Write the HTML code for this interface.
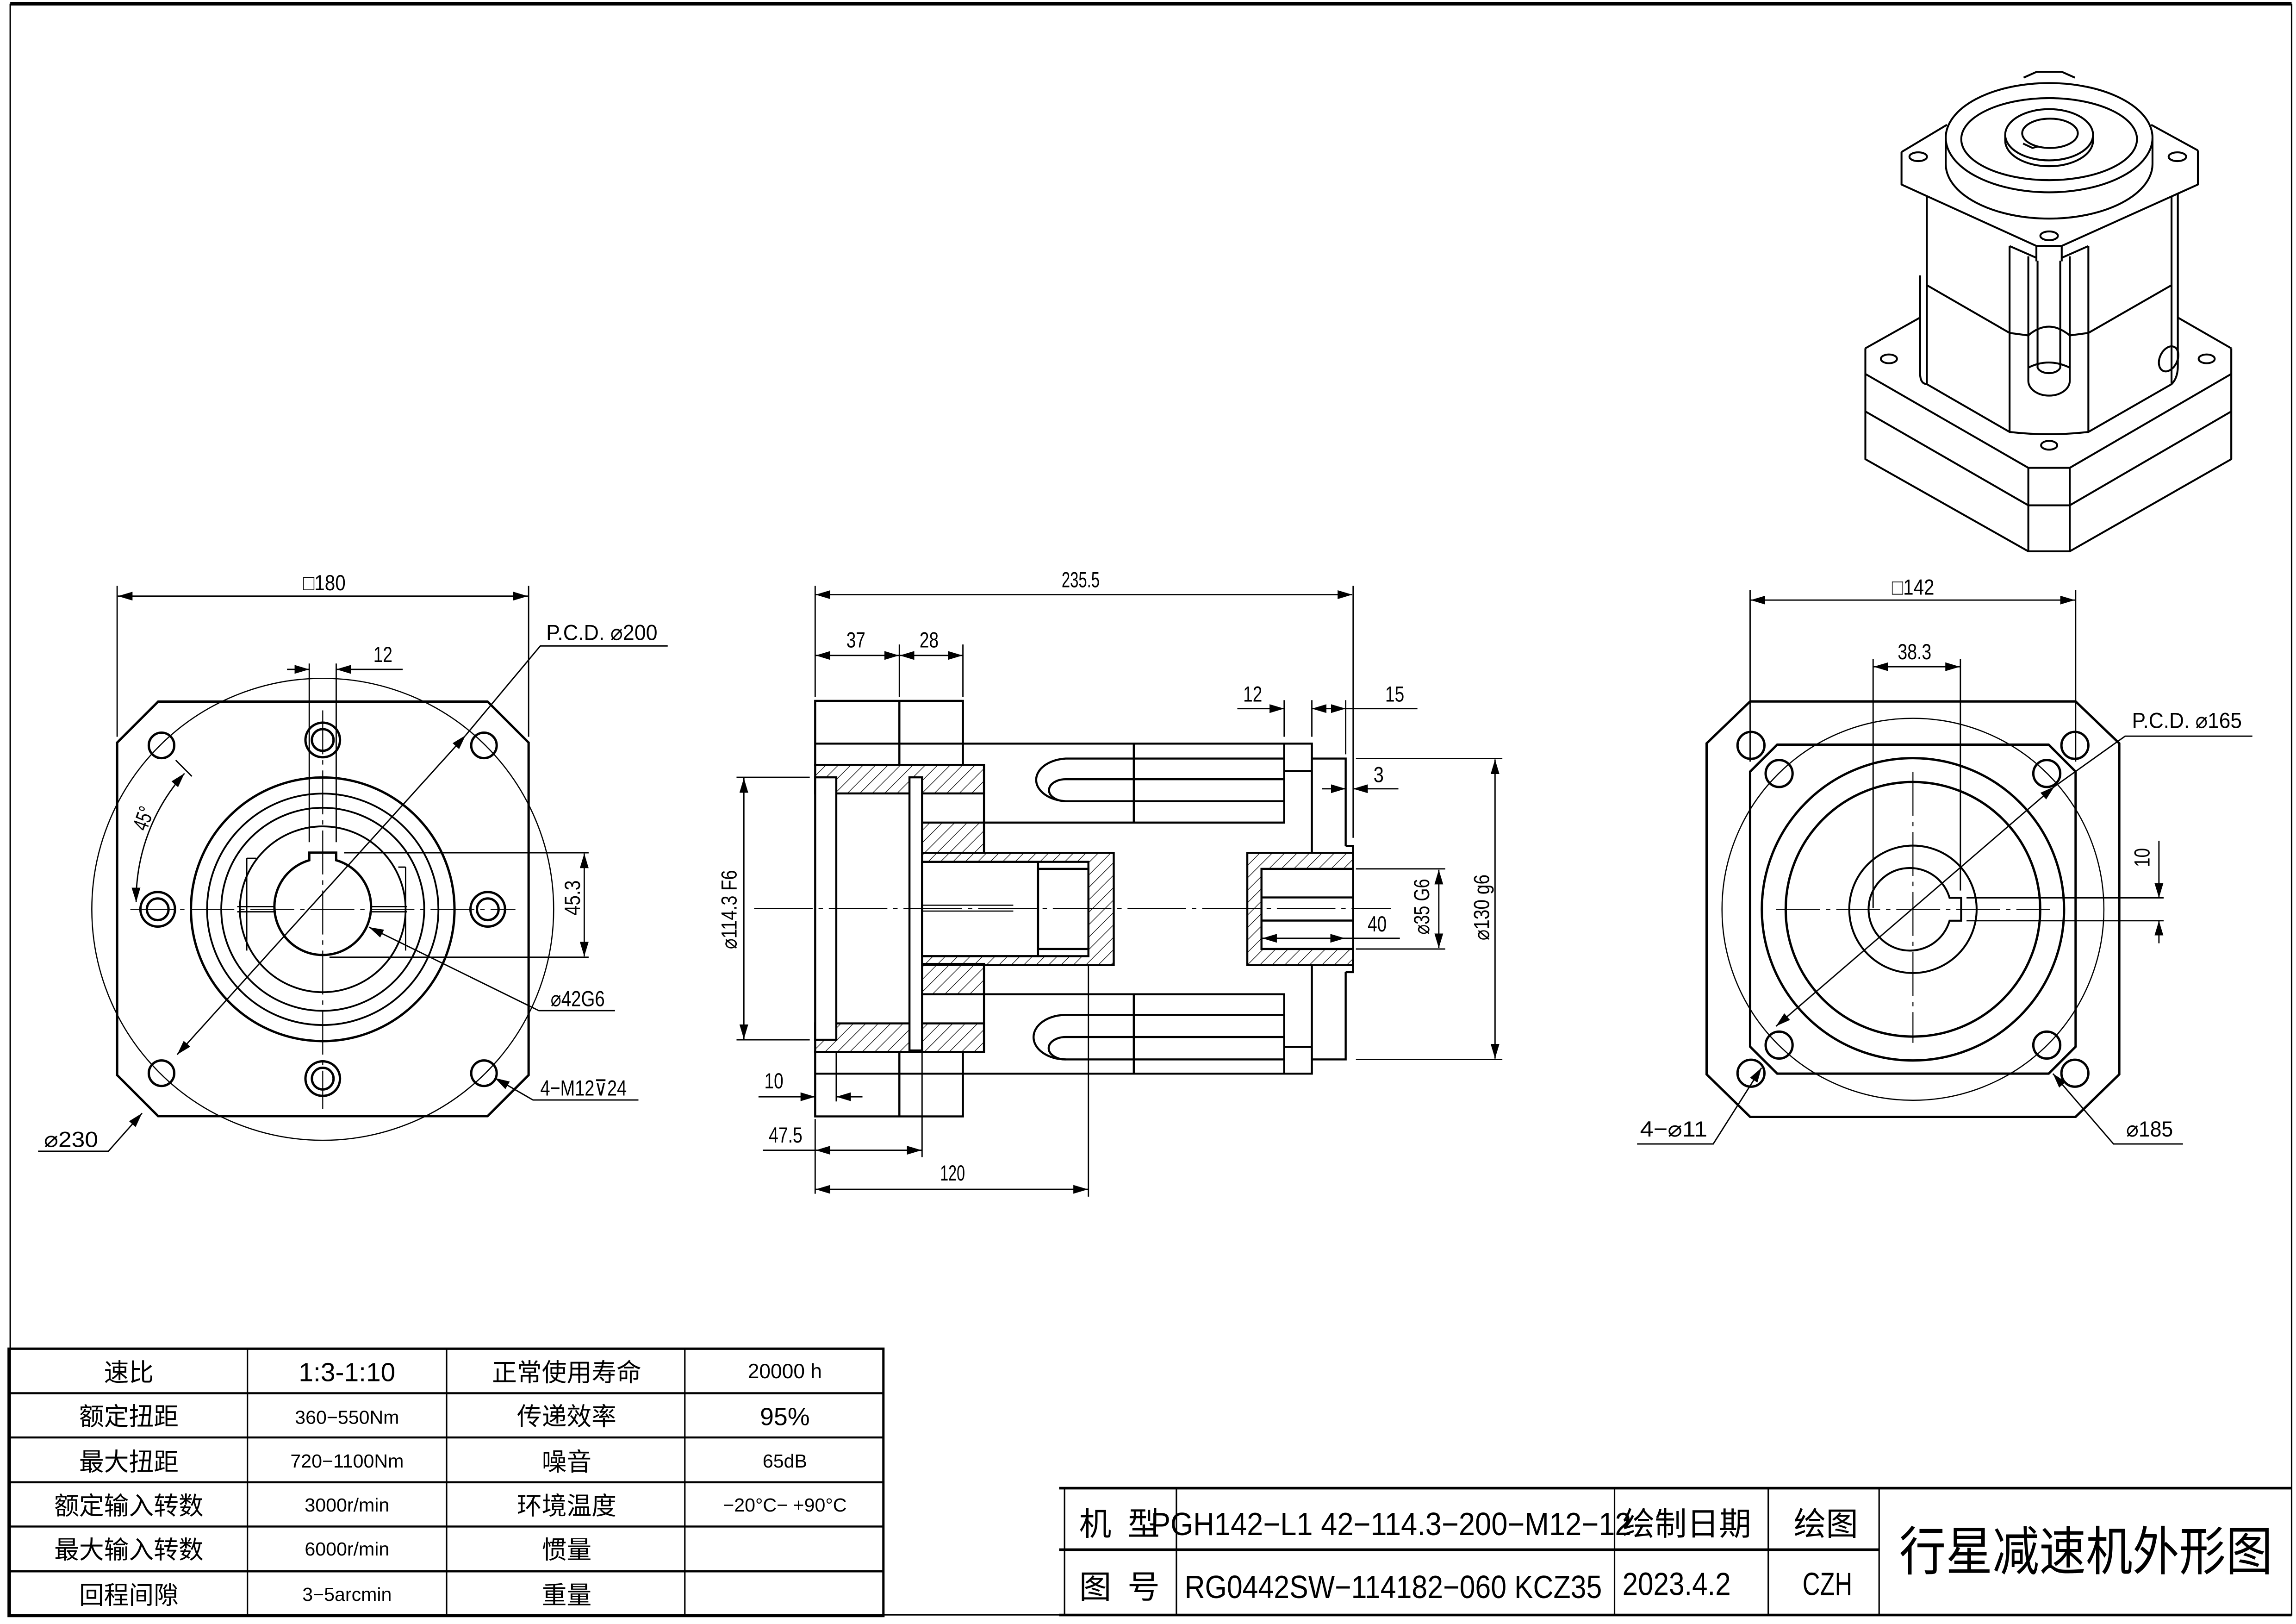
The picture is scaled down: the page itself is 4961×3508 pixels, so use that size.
<!DOCTYPE html>
<html><head><meta charset="utf-8"><style>
html,body{margin:0;padding:0;background:#fff;}
svg{display:block;}
text{font-family:"Liberation Sans","Noto Sans CJK SC",sans-serif;fill:#000;}
</style></head><body>
<svg width="4961" height="3508" viewBox="0 0 1568 1108.75" preserveAspectRatio="none" xmlns="http://www.w3.org/2000/svg">
<defs>
<marker id="a" markerUnits="userSpaceOnUse" markerWidth="10" markerHeight="6" refX="10" refY="3" orient="auto"><path d="M0,0 L10,3 L0,6 Z" fill="#000"/></marker>
<marker id="s" markerUnits="userSpaceOnUse" markerWidth="10" markerHeight="6" refX="0" refY="3" orient="auto"><path d="M10,0 L0,3 L10,6 Z" fill="#000"/></marker>
<pattern id="h" patternUnits="userSpaceOnUse" width="6" height="6" patternTransform="rotate(45)"><line x1="0" y1="0" x2="0" y2="6" stroke="#000" stroke-width="0.8"/></pattern>
</defs>
<rect width="1568" height="1108.75" fill="#fff"/>
<path d="M7,3 H1565 V1102.5 H7 Z" fill="none" stroke="#000" stroke-width="1"/>
<line x1="7" y1="2.5" x2="1565" y2="2.5" stroke="#000" stroke-width="2.5"/>

<g fill="none" stroke="#000" stroke-linecap="butt">
<g stroke-width="1.6">
<path d="M108,479 H333 L361,507 V734 L333,762 H108 L80,734 V507 Z"/>
<circle cx="220.4" cy="620.8" r="90"/>
<circle cx="220.4" cy="620.8" r="79" stroke-width="1.2"/>
<circle cx="220.4" cy="620.8" r="69.3" stroke-width="1.2"/>
<circle cx="220.4" cy="620.8" r="56.6" stroke-width="1.2"/>
<path d="M211.2,582.1 L211.2,587.3 A33,33 0 1,0 229.6,587.3 L229.6,582.1 Z"/>
<circle cx="110.3" cy="508.9" r="8.7"/><circle cx="330.5" cy="508.9" r="8.7"/>
<circle cx="110.3" cy="732.7" r="8.7"/><circle cx="330.5" cy="732.7" r="8.7"/>
<circle cx="220.4" cy="505.2" r="11.8"/><circle cx="220.4" cy="505.2" r="7.4"/>
<circle cx="220.4" cy="736.4" r="11.8"/><circle cx="220.4" cy="736.4" r="7.4"/>
<circle cx="107.7" cy="620.8" r="11.8"/><circle cx="107.7" cy="620.8" r="7.4"/>
<circle cx="333.1" cy="620.8" r="11.8"/><circle cx="333.1" cy="620.8" r="7.4"/>
</g>
<g stroke-width="0.9">
<path d="M168.5,586 V649 M168.5,586 H175 M277,592 V649 M272,592 H277"/>
<line x1="162" y1="619" x2="187" y2="619"/><line x1="162" y1="622.5" x2="187" y2="622.5"/>
<line x1="253" y1="619" x2="278" y2="619"/><line x1="253" y1="622.5" x2="278" y2="622.5"/>
<circle cx="220.4" cy="620.8" r="157.7" stroke-width="0.8"/>
<line x1="89" y1="620.8" x2="352" y2="620.8" stroke-dasharray="30,4,3,4" stroke-width="0.7"/>
<line x1="220.4" y1="485" x2="220.4" y2="757" stroke-dasharray="30,4,3,4" stroke-width="0.7"/>
<line x1="80" y1="400" x2="80" y2="503"/><line x1="361" y1="400" x2="361" y2="503"/>
<line x1="80.5" y1="407" x2="360.5" y2="407" marker-start="url(#s)" marker-end="url(#a)"/>
<line x1="211.2" y1="453" x2="211.2" y2="575"/><line x1="229.6" y1="453" x2="229.6" y2="575"/>
<line x1="196" y1="457" x2="211.2" y2="457" marker-end="url(#a)"/>
<line x1="275" y1="457" x2="229.6" y2="457" marker-end="url(#a)"/>
<line x1="121" y1="720" x2="318" y2="502" marker-start="url(#s)" marker-end="url(#a)"/>
<path d="M318,502 L369,441 H456"/>
<path d="M93,616 A130,130 0 0,1 126,528" marker-start="url(#s)" marker-end="url(#a)"/>
<line x1="120" y1="519" x2="131" y2="530"/>
<line x1="235" y1="582.2" x2="402" y2="582.2"/><line x1="225" y1="653.5" x2="402" y2="653.5"/>
<line x1="399" y1="582.7" x2="399" y2="653" marker-start="url(#s)" marker-end="url(#a)"/>
<path d="M420,690 H368 L252,633" marker-end="url(#a)"/>
<path d="M436,751 H364 L338,736" marker-end="url(#a)"/>
<path d="M26,786 H74 L97,760" marker-end="url(#a)"/>
</g>
<g stroke-width="1.4">
<rect x="556.7" y="522.2" width="115.3" height="19.5" fill="url(#h)"/>
<rect x="556.7" y="698.7" width="115.3" height="19.5" fill="url(#h)"/>
<rect x="629.7" y="561.6" width="42.3" height="20.7" fill="url(#h)"/>
<rect x="629.7" y="658.1" width="42.3" height="20.7" fill="url(#h)"/>
<rect x="629.7" y="582.3" width="130.9" height="76.6" fill="url(#h)"/>
<rect x="629.7" y="588.4" width="113.6" height="64.4" fill="#fff"/>
<rect x="556.7" y="530.7" width="14.4" height="179.2" fill="#fff"/>
<rect x="621.1" y="530.7" width="8.6" height="186.5" fill="#fff"/>
<rect x="556.7" y="478.5" width="100.9" height="43.7"/>
<line x1="614.2" y1="478.5" x2="614.2" y2="522.2"/><line x1="556.7" y1="507.7" x2="657.6" y2="507.7"/>
<rect x="556.7" y="718.2" width="100.9" height="44"/>
<line x1="614.2" y1="718.2" x2="614.2" y2="762.2"/><line x1="556.7" y1="733" x2="657.6" y2="733"/>
<line x1="672" y1="522.2" x2="672" y2="582.3"/><line x1="672" y1="658.9" x2="672" y2="718.2"/>
<rect x="629.7" y="588.4" width="79.2" height="64.4"/>
<rect x="708.9" y="593.2" width="34.4" height="54.7"/>
<line x1="629.7" y1="618" x2="692" y2="618" stroke-width="0.8"/><line x1="629.7" y1="622" x2="692" y2="622" stroke-width="0.8"/>
<path d="M657.6,507.7 H895.9 V582.3 M877,507.7 V561.6 H672 M877,526.4 H895.9"/>
<path d="M657.6,733 H895.9 V658.9 M877,733 V678.8 H672 M877,714.8 H895.9"/>
<line x1="774.3" y1="507.7" x2="774.3" y2="561.6"/><line x1="774.3" y1="678.8" x2="774.3" y2="733"/>
<path d="M877,517.9 H727.8 A22,14.6 0 0,0 727.8,547 H877"/>
<path d="M877,532 H727.8 A11.4,7.5 0 0,0 727.8,547"/>
<path d="M877,692.9 H727.8 A22,15.2 0 0,0 727.8,723.3 H877"/>
<path d="M877,708 H727.8 A11.4,7.5 0 0,0 727.8,723.3"/>
<path d="M895.9,517.9 H919 V577.5 M895.9,723.3 H919 V663.7"/>
<path d="M919,577.5 H924 V663.7 H919"/>
<rect x="851.8" y="582.3" width="72.3" height="76.6" fill="url(#h)"/>
<rect x="861.5" y="593.2" width="62.6" height="54.7" fill="#fff"/>
<line x1="861.5" y1="612.7" x2="924" y2="612.7"/><line x1="861.5" y1="628.5" x2="924" y2="628.5"/>
</g>
<g stroke-width="0.9">
<line x1="515" y1="620.2" x2="950" y2="620.2" stroke-dasharray="40,4,3,4" stroke-width="0.7"/>
<line x1="556.7" y1="400" x2="556.7" y2="476"/><line x1="924.1" y1="400" x2="924.1" y2="572"/>
<line x1="557" y1="406" x2="923.5" y2="406" marker-start="url(#s)" marker-end="url(#a)"/>
<line x1="614.2" y1="440" x2="614.2" y2="476"/><line x1="657.6" y1="440" x2="657.6" y2="476"/>
<line x1="557" y1="447.5" x2="614" y2="447.5" marker-start="url(#s)" marker-end="url(#a)"/>
<line x1="614.4" y1="447.5" x2="657.4" y2="447.5" marker-start="url(#s)" marker-end="url(#a)"/>
<line x1="877" y1="478" x2="877" y2="503"/><line x1="895.9" y1="478" x2="895.9" y2="503"/><line x1="919" y1="478" x2="919" y2="515"/>
<line x1="845" y1="483.8" x2="877" y2="483.8" marker-end="url(#a)"/>
<line x1="895.9" y1="483.8" x2="919" y2="483.8" marker-start="url(#s)" marker-end="url(#a)"/>
<line x1="968" y1="483.8" x2="919" y2="483.8"/>
<line x1="903" y1="538.5" x2="919" y2="538.5" marker-end="url(#a)"/>
<line x1="955" y1="538.5" x2="924.1" y2="538.5" marker-end="url(#a)"/>
<line x1="926" y1="517.9" x2="1026" y2="517.9"/><line x1="926" y1="723.3" x2="1026" y2="723.3"/>
<line x1="1021" y1="518.5" x2="1021" y2="722.7" marker-start="url(#s)" marker-end="url(#a)"/>
<line x1="926" y1="593.2" x2="987" y2="593.2"/><line x1="926" y1="647.9" x2="987" y2="647.9"/>
<line x1="982.6" y1="593.8" x2="982.6" y2="647.3" marker-start="url(#s)" marker-end="url(#a)"/>
<line x1="862" y1="640.6" x2="918.5" y2="640.6" marker-start="url(#s)" marker-end="url(#a)"/>
<line x1="918.5" y1="640.6" x2="956" y2="640.6"/>
<line x1="503" y1="530.7" x2="553" y2="530.7"/><line x1="503" y1="709.9" x2="553" y2="709.9"/>
<line x1="508" y1="531.2" x2="508" y2="709.4" marker-start="url(#s)" marker-end="url(#a)"/>
<line x1="556.7" y1="764" x2="556.7" y2="815"/><line x1="571.1" y1="718" x2="571.1" y2="752"/>
<line x1="629.7" y1="718" x2="629.7" y2="790"/><line x1="743.3" y1="659" x2="743.3" y2="817"/>
<line x1="518" y1="748.8" x2="556.7" y2="748.8" marker-end="url(#a)"/>
<line x1="589" y1="748.8" x2="571.1" y2="748.8" marker-end="url(#a)"/>
<line x1="521" y1="785.3" x2="556.7" y2="785.3"/>
<line x1="557" y1="785.3" x2="629.4" y2="785.3" marker-start="url(#s)" marker-end="url(#a)"/>
<line x1="557" y1="812" x2="743" y2="812" marker-start="url(#s)" marker-end="url(#a)"/>
</g>
<g stroke-width="1.6">
<path d="M1195.2,478.9 H1417.5 L1447.3,507.5 V733.5 L1417.5,762.5 H1195.2 L1165.5,733.5 V507.5 Z"/>
<path d="M1213.7,508.4 H1399.1 L1417.5,526.8 V714.6 L1399.1,733 H1213.7 L1195.2,714.6 V526.8 Z"/>
<circle cx="1306.4" cy="620.8" r="103.2"/>
<circle cx="1306.4" cy="620.8" r="86.9"/>
<circle cx="1306.4" cy="620.8" r="43.5" stroke-width="1.3"/>
<path d="M1331.4,613 A28.2,28.2 0 1,0 1331.4,628.6 H1339.3 V613 Z" stroke-width="1.3"/>
<circle cx="1195.8" cy="508.9" r="9.2"/><circle cx="1417" cy="508.9" r="9.2"/>
<circle cx="1195.8" cy="732.7" r="9.2"/><circle cx="1417" cy="732.7" r="9.2"/>
<circle cx="1215" cy="528.1" r="9.2"/><circle cx="1397.8" cy="528.1" r="9.2"/>
<circle cx="1215" cy="713.5" r="9.2"/><circle cx="1397.8" cy="713.5" r="9.2"/>
</g>
<g stroke-width="0.9">
<circle cx="1306.4" cy="620.8" r="130.4" stroke-width="0.8"/>
<line x1="1213" y1="620.8" x2="1400" y2="620.8" stroke-dasharray="30,4,3,4" stroke-width="0.7"/>
<line x1="1306.4" y1="527" x2="1306.4" y2="712" stroke-dasharray="30,4,3,4" stroke-width="0.7"/>
<line x1="1195.2" y1="403" x2="1195.2" y2="520"/><line x1="1417.5" y1="403" x2="1417.5" y2="520"/>
<line x1="1195.5" y1="409.7" x2="1417" y2="409.7" marker-start="url(#s)" marker-end="url(#a)"/>
<line x1="1279.2" y1="450" x2="1279.2" y2="620"/><line x1="1338.8" y1="450" x2="1338.8" y2="608"/>
<line x1="1279.5" y1="455.2" x2="1338.5" y2="455.2" marker-start="url(#s)" marker-end="url(#a)"/>
<line x1="1343" y1="613" x2="1477.6" y2="613"/><line x1="1343" y1="628.6" x2="1477.6" y2="628.6"/>
<line x1="1474.4" y1="574" x2="1474.4" y2="613" marker-end="url(#a)"/>
<line x1="1474.4" y1="644" x2="1474.4" y2="628.6" marker-end="url(#a)"/>
<line x1="1212.9" y1="700.6" x2="1403" y2="537" marker-start="url(#s)" marker-end="url(#a)"/>
<path d="M1403,537 L1451.3,502.6 H1538.2"/>
<path d="M1118,781 H1170 L1203,729" marker-end="url(#a)"/>
<path d="M1490.8,781 H1443.4 L1402,733" marker-end="url(#a)"/>
</g>
<g stroke-width="1.3" stroke-linejoin="round">
<path d="M1273.9,237.8 L1311.3,216.8 M1487.3,216.8 L1523.8,237.8"/>
<path d="M1273.9,237.8 V313.5 L1385.2,376.4 H1413.5 L1523.8,313.5 V237.8"/>
<path d="M1273.9,255.3 L1385.2,319.4 H1413.5 L1523.8,255.3"/>
<path d="M1273.9,280.9 L1385.2,345 H1413.5 L1523.8,280.9"/>
<line x1="1385.2" y1="319.4" x2="1385.2" y2="376.4"/><line x1="1413.5" y1="319.4" x2="1413.5" y2="376.4"/>
<ellipse cx="1290" cy="245" rx="5.5" ry="3"/><ellipse cx="1507" cy="245" rx="5.5" ry="3"/>
<ellipse cx="1399.4" cy="304" rx="5.5" ry="3"/>
<path d="M1311.3,188 V255 Q1311.3,262 1315.9,262.3 L1372.4,294.9 Q1399,298 1426.2,294.9 L1483,262.3 Q1487.3,258 1487.3,250 V132"/>
<path d="M1315.9,134 V262.3 M1483,134 V262.3"/>
<path d="M1315.9,194.7 L1372.4,227.3 Q1385,229 1385.2,229 Q1392,223 1399.4,223 Q1406,223 1413.5,229 L1426.2,227.3 L1483,194.7"/>
<line x1="1372.4" y1="168" x2="1372.4" y2="294.9"/><line x1="1426.2" y1="168" x2="1426.2" y2="294.9"/>
<path d="M1385.2,175 V260 A14,10 0 0,0 1413.5,260 V175"/>
<path d="M1391.5,178 V251 A8,5 0 0,0 1407,251 V178"/>
<path d="M1385.2,251 Q1399,244 1413.5,251"/>
<ellipse cx="1481" cy="245" rx="6" ry="9" transform="rotate(25 1481 245)"/>
<path d="M1298.6,103.8 V126 L1390.7,167.9 H1408 L1501,126 V102.7"/>
<path d="M1298.6,103.8 L1329.6,85.2 M1501,102.7 L1469.1,85.2"/>
<path d="M1390.7,167.9 V178.4 M1408,167.9 V178.4 M1372.4,168 L1390.7,176 M1426.2,168 L1408,176"/>
<ellipse cx="1310" cy="107" rx="6" ry="3"/><ellipse cx="1487" cy="107" rx="6" ry="3"/>
<ellipse cx="1399.4" cy="161" rx="6" ry="3"/>
<path d="M1328.8,94 V112 A70.6,37.3 0 0,0 1470,112 V94"/>
<ellipse cx="1399.4" cy="94" rx="70.6" ry="37.3"/>
<ellipse cx="1399.4" cy="95" rx="60" ry="28"/>
<path d="M1369.4,92 V96 A30,17.5 0 0,0 1429.4,96 V92"/>
<ellipse cx="1399.4" cy="92" rx="30" ry="17.5"/>
<ellipse cx="1400" cy="91" rx="19" ry="10"/>
<path d="M1381.6,98 L1388,101 L1392,100" />
<path d="M1382,53 L1391,49 H1408 L1417,53"/>
</g>
<g stroke-width="1">
<path d="M5.9,920.8 H603.3 V1103.3 H5.9 Z" stroke-width="1.6"/>
<path d="M5.9,951.2 H603.3 M5.9,981.4 H603.3 M5.9,1012 H603.3 M5.9,1042.2 H603.3 M5.9,1072.8 H603.3" stroke-width="1.4"/>
<path d="M169,920.8 V1103.3 M305,920.8 V1103.3 M467.7,920.8 V1103.3"/>
<path d="M723.3,1016 H1565 M723.3,1058 H1283.3 M723.3,1102.6 H1565" stroke-width="1.8"/>
<path d="M727,1016 V1102.6 M803.4,1016 V1102.6 M1102.6,1016 V1102.6 M1207.6,1016 V1102.6 M1283.3,1016 V1102.6"/>
</g>
</g>

<g font-size="15">
<text x="207" y="403" textLength="29" lengthAdjust="spacingAndGlyphs">□180</text>
<text x="255" y="452" textLength="13" lengthAdjust="spacingAndGlyphs">12</text>
<text x="373" y="437" textLength="76" lengthAdjust="spacingAndGlyphs">P.C.D. ⌀200</text>
<text x="0" y="0" transform="translate(100,568) rotate(-70)" textLength="16" lengthAdjust="spacingAndGlyphs">45°</text>
<text x="0" y="0" transform="translate(396,625) rotate(-90)" textLength="24" lengthAdjust="spacingAndGlyphs">45.3</text>
<text x="376" y="687" textLength="37" lengthAdjust="spacingAndGlyphs">⌀42G6</text>
<text x="369" y="748" textLength="59" lengthAdjust="spacingAndGlyphs">4−M12⊽24</text>
<text x="30" y="783" textLength="37" lengthAdjust="spacingAndGlyphs">⌀230</text>

<text x="725" y="401" textLength="26" lengthAdjust="spacingAndGlyphs">235.5</text>
<text x="578" y="442" textLength="13" lengthAdjust="spacingAndGlyphs">37</text>
<text x="628" y="442" textLength="13" lengthAdjust="spacingAndGlyphs">28</text>
<text x="849" y="479" textLength="13" lengthAdjust="spacingAndGlyphs">12</text>
<text x="946" y="479" textLength="13" lengthAdjust="spacingAndGlyphs">15</text>
<text x="938" y="534" textLength="7" lengthAdjust="spacingAndGlyphs">3</text>
<text x="934" y="636" textLength="13" lengthAdjust="spacingAndGlyphs">40</text>
<text x="0" y="0" transform="translate(1017,642) rotate(-90)" textLength="45" lengthAdjust="spacingAndGlyphs">⌀130 g6</text>
<text x="0" y="0" transform="translate(976,638) rotate(-90)" textLength="38" lengthAdjust="spacingAndGlyphs">⌀35 G6</text>
<text x="0" y="0" transform="translate(503,648) rotate(-90)" textLength="54" lengthAdjust="spacingAndGlyphs">⌀114.3 F6</text>
<text x="522" y="743" textLength="13" lengthAdjust="spacingAndGlyphs">10</text>
<text x="525" y="780" textLength="23" lengthAdjust="spacingAndGlyphs">47.5</text>
<text x="642" y="806" textLength="17" lengthAdjust="spacingAndGlyphs">120</text>

<text x="1292" y="406" textLength="29" lengthAdjust="spacingAndGlyphs">□142</text>
<text x="1296" y="450" textLength="23" lengthAdjust="spacingAndGlyphs">38.3</text>
<text x="1456" y="497" textLength="75" lengthAdjust="spacingAndGlyphs">P.C.D. ⌀165</text>
<text x="0" y="0" transform="translate(1468,592) rotate(-90)" textLength="13" lengthAdjust="spacingAndGlyphs">10</text>
<text x="1120" y="776" textLength="46" lengthAdjust="spacingAndGlyphs">4−⌀11</text>
<text x="1452" y="776" textLength="32" lengthAdjust="spacingAndGlyphs">⌀185</text>
</g>

<g font-size="17" text-anchor="middle">
<text x="88" y="943">速比</text>
<text x="237" y="943" font-family="Liberation Serif,serif" font-size="18">1:3-1:10</text>
<text x="387" y="943">正常使用寿命</text>
<text x="536" y="941" font-size="14">20000 h</text>
<text x="88" y="973">额定扭距</text>
<text x="237" y="972" font-size="13">360−550Nm</text>
<text x="387" y="973">传递效率</text>
<text x="536" y="973" font-size="17">95%</text>
<text x="88" y="1004">最大扭距</text>
<text x="237" y="1002" font-size="13">720−1100Nm</text>
<text x="387" y="1004">噪音</text>
<text x="536" y="1002" font-size="13">65dB</text>
<text x="88" y="1034">额定输入转数</text>
<text x="237" y="1032" font-size="13">3000r/min</text>
<text x="387" y="1034">环境温度</text>
<text x="536" y="1032" font-size="13">−20°C− +90°C</text>
<text x="88" y="1064">最大输入转数</text>
<text x="237" y="1062" font-size="13">6000r/min</text>
<text x="387" y="1064">惯量</text>
<text x="88" y="1095">回程间隙</text>
<text x="237" y="1093" font-size="13">3−5arcmin</text>
<text x="387" y="1095">重量</text>
</g>

<g font-size="22">
<text x="737" y="1048">机</text><text x="770" y="1048">型</text>
<text x="737" y="1091">图</text><text x="770" y="1091">号</text>
<text x="786" y="1048" textLength="328" lengthAdjust="spacingAndGlyphs">PGH142−L1 42−114.3−200−M12−12</text>
<text x="809" y="1091" textLength="285" lengthAdjust="spacingAndGlyphs">RG0442SW−114182−060 KCZ35</text>
<text x="1108" y="1048" textLength="88" lengthAdjust="spacingAndGlyphs">绘制日期</text>
<text x="1108" y="1089" textLength="74" lengthAdjust="spacingAndGlyphs">2023.4.2</text>
<text x="1225" y="1048">绘图</text>
<text x="1231" y="1089" textLength="34" lengthAdjust="spacingAndGlyphs">CZH</text>
<text x="1297" y="1072" font-size="36" textLength="255" lengthAdjust="spacingAndGlyphs">行星减速机外形图</text>
</g>
</svg>
</body></html>
